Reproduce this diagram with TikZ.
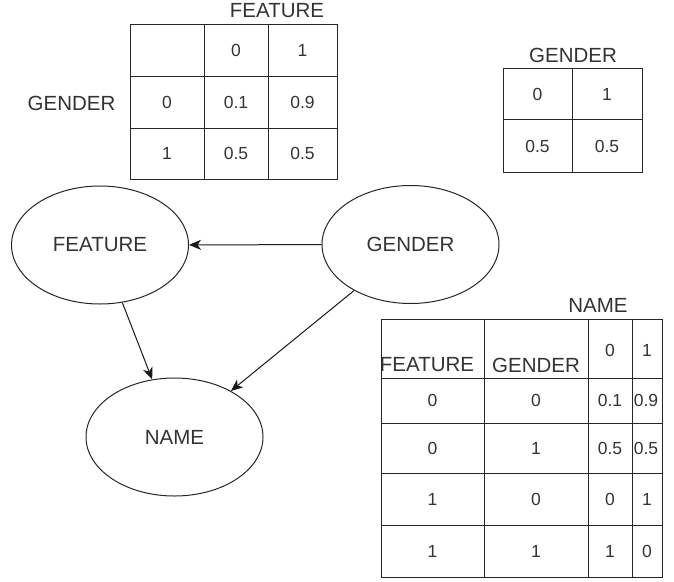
\documentclass[tikz,border=0pt]{standalone}
\usepackage{fontspec}
\setmainfont{Liberation Sans}
\usetikzlibrary{shapes.geometric,arrows.meta}

\tikzset{
  word/.style={inner sep=0pt, text=black!80, font=\fontsize{20.5}{24}\selectfont},
  num/.style={inner sep=0pt, text=black!80, font=\fontsize{17.5}{20}\selectfont},
  oval/.style={ellipse, draw=black!85, line width=1pt, minimum width=177pt,
               minimum height=118pt, inner sep=0pt, word},
  grid/.style={draw=black!85, line width=1pt},
  link/.style={draw=black!90, line width=1pt, -{Stealth[length=12pt,width=10pt,inset=3.5pt]}}
}

\begin{document}
\begin{tikzpicture}[x=1pt,y=-1pt]
\useasboundingbox (0,0) rectangle (674,581);

% ---- nodes of the network ----
\node[oval] (feat) at (100,245) {FEATURE};
\node[oval] (gend) at (410.5,244.5) {GENDER};
\node[oval] (name) at (174.5,437) {NAME};

\draw[link] (gend) -- (feat);
\draw[link] (feat) -- (name);
\draw[link] (gend) -- (name);

% ---- table P(FEATURE | GENDER) ----
\draw[grid] (130,24) rectangle (337,179);
\draw[grid] (204,24) -- (204,179);
\draw[grid] (268,24) -- (268,179);
\draw[grid] (130,76) -- (337,76);
\draw[grid] (130,128) -- (337,128);
\node[word] (tf-head) at (277,11) {FEATURE};
\node[word] (tf-side) at (71.5,103) {GENDER};
\node[num] (tf-c0) at (236,50) {0};
\node[num] (tf-c1) at (302.5,50) {1};
\node[num] (tf-r0) at (167,102) {0};
\node[num] (tf-a) at (236,102) {0.1};
\node[num] (tf-b) at (302.5,102) {0.9};
\node[num] (tf-r1) at (167,153.5) {1};
\node[num] (tf-c) at (236,153.5) {0.5};
\node[num] (tf-d) at (302.5,153.5) {0.5};

% ---- table P(GENDER) ----
\draw[grid] (503,68) rectangle (642,172);
\draw[grid] (572,68) -- (572,172);
\draw[grid] (503,119) -- (642,119);
\node[word] (tg-head) at (573,55) {GENDER};
\node[num] (tg-c0) at (537.5,94) {0};
\node[num] (tg-c1) at (607,94) {1};
\node[num] (tg-a) at (537.5,146) {0.5};
\node[num] (tg-b) at (607,146) {0.5};

% ---- table P(NAME | FEATURE, GENDER) ----
\draw[grid] (381,319) rectangle (662,577);
\foreach \cx in {484,588,632} \draw[grid] (\cx,319) -- (\cx,577);
\foreach \ry in {378,423,473,525} \draw[grid] (381,\ry) -- (662,\ry);
\node[word] (tn-head) at (598,305) {NAME};
\node[word] (tn-f) at (427,365) {FEATURE};
\node[word] (tn-g) at (536,365) {GENDER};
\node[num] (tn-c0) at (610,350) {0};
\node[num] (tn-c1) at (647,350) {1};
% rows: FEATURE, GENDER, P(0), P(1)
\node[num] (tn-1f) at (432.5,400.5) {0};
\node[num] (tn-1g) at (536,400.5) {0};
\node[num] (tn-1a) at (610,400.5) {0.1};
\node[num] (tn-1b) at (646,400.5) {0.9};
\node[num] (tn-2f) at (432.5,448) {0};
\node[num] (tn-2g) at (536,448) {1};
\node[num] (tn-2a) at (610,448) {0.5};
\node[num] (tn-2b) at (646,448) {0.5};
\node[num] (tn-3f) at (432.5,499) {1};
\node[num] (tn-3g) at (536,499) {0};
\node[num] (tn-3a) at (610,499) {0};
\node[num] (tn-3b) at (647,499) {1};
\node[num] (tn-4f) at (432.5,551) {1};
\node[num] (tn-4g) at (536,551) {1};
\node[num] (tn-4a) at (610,551) {1};
\node[num] (tn-4b) at (647,551) {0};
\end{tikzpicture}
\end{document}
